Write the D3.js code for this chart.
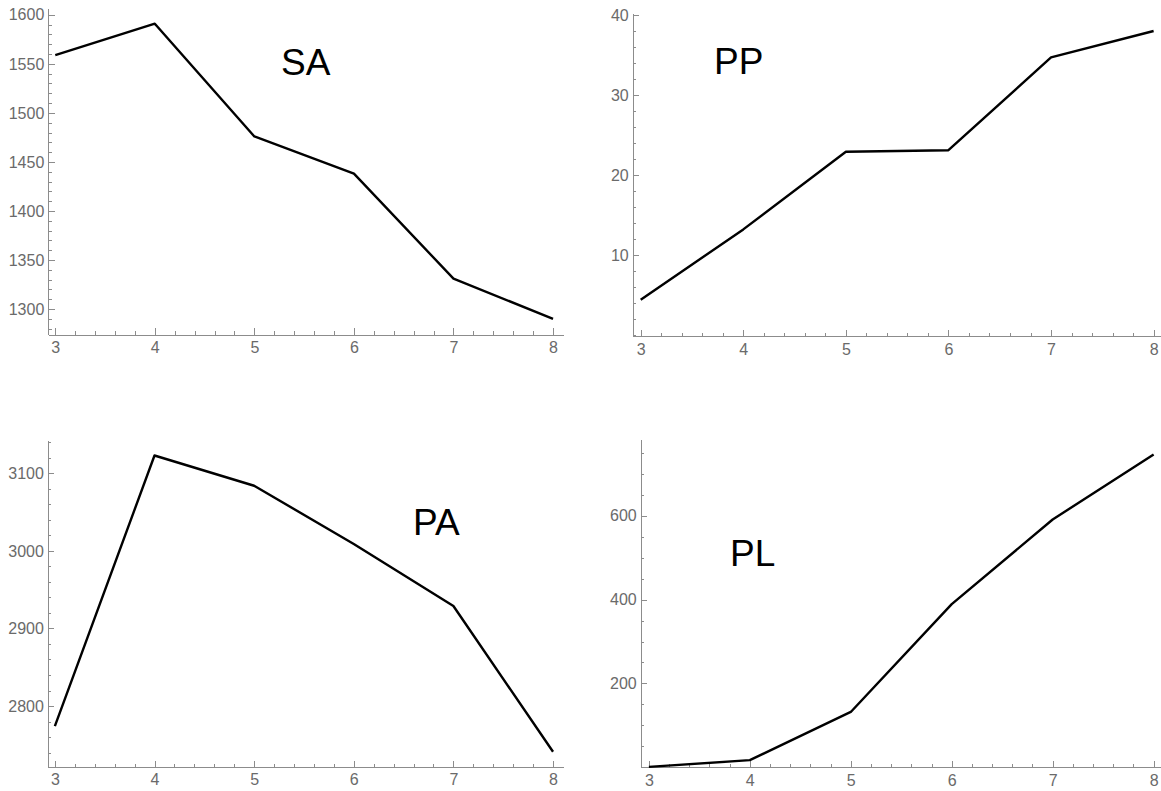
<!DOCTYPE html>
<html>
<head>
<meta charset="utf-8">
<script src="https://cdn.jsdelivr.net/npm/d3@7"></script>
<style>
  body { margin: 0; background: #fff; }
  svg { display: block; font-family: "Liberation Sans", Arial, sans-serif; }
  .axis path, .axis line { stroke: #8c8c8c; shape-rendering: crispEdges; }
  .line { fill: none; stroke: #000; stroke-width: 2.4; stroke-linejoin: round; }
  .title { font-size: 37px; fill: #000; }
</style>
</head>
<body>
<script>
// data
const xValues = [3, 4, 5, 6, 7, 8]
const saValues = [1559, 1591, 1476, 1438, 1331, 1290]
const ppValues = [4.4, 13.2, 22.9, 23.1, 34.7, 38.0]
const paValues = [2774, 3123, 3084, 3009, 2929, 2741]
const plValues = [1, 17, 132, 389, 591, 746]

// tick labels
const xTicks = [3, 4, 5, 6, 7, 8]
const saTicks = [1300, 1350, 1400, 1450, 1500, 1550, 1600]
const ppTicks = [10, 20, 30, 40]
const paTicks = [2800, 2900, 3000, 3100]
const plTicks = [200, 400, 600]

const width = 1161
const height = 791

// frame of each panel: axis extents in data units and where they sit on the page
const panels = [
  {name: 'SA', values: saValues, ticks: saTicks, minorStep: 10,
   xDom: [2.93, 8.1], xPx: [48.3, 563], yDom: [1274, 1607], yPx: [334.5, 8],
   title: [281, 75]},
  {name: 'PP', values: ppValues, ticks: ppTicks, minorStep: 2,
   xDom: [2.922, 8.072], xPx: [632.7, 1161], yDom: [-0.15, 40.25], yPx: [336.2, 13],
   title: [714, 74]},
  {name: 'PA', values: paValues, ticks: paTicks, minorStep: 20,
   xDom: [2.93, 8.1], xPx: [47.9, 563], yDom: [2721.4, 3143], yPx: [767, 440],
   title: [413, 535]},
  {name: 'PL', values: plValues, ticks: plTicks, minorStep: 50,
   xDom: [2.919, 8.073], xPx: [640.7, 1161], yDom: [0, 782], yPx: [767.3, 439.4],
   title: [730, 566]},
]

const svg = d3.select('body').append('svg')
  .attr('width', width)
  .attr('height', height)

// mathematica-ish tick label look
const styleLabels = a => a.selectAll('text')
  .style('font-size', '16px')
  .style('font-family', '"Liberation Sans", Arial, sans-serif')
  .style('fill', '#6a6a6a')

panels.forEach(p => {
  const x = d3.scaleLinear().domain(p.xDom).range(p.xPx)
  const y = d3.scaleLinear().domain(p.yDom).range(p.yPx)
  const g = svg.append('g')

  // minor ticks, x every 0.2
  const xMinor = d3.range(Math.ceil(p.xDom[0] * 5), Math.floor(p.xDom[1] * 5) + 1)
    .map(i => i / 5).filter(v => Math.abs(v - Math.round(v)) > 1e-6)
  const yMinor = d3.range(Math.ceil(p.yDom[0] / p.minorStep), Math.floor(p.yDom[1] / p.minorStep) + 1)
    .map(i => i * p.minorStep).filter(v => !p.ticks.includes(v) && v > p.yDom[0])

  // x axis
  const xAxisY = y(p.yDom[0])
  g.append('g')
    .attr('class', 'axis')
    .attr('transform', 'translate(0,' + xAxisY + ')')
    .call(d3.axisBottom(x).tickValues(xMinor).tickSize(-3.5).tickSizeOuter(0).tickFormat(''))
  g.append('g')
    .attr('class', 'axis')
    .attr('transform', 'translate(0,' + xAxisY + ')')
    .call(d3.axisBottom(x).tickValues(xTicks).tickSize(-6.5).tickSizeOuter(0).tickPadding(7).tickFormat(d3.format('d')))
    .call(a => a.select('.domain').remove())
    .call(styleLabels)

  // y axis
  const yAxisX = x(p.xDom[0])
  g.append('g')
    .attr('class', 'axis')
    .attr('transform', 'translate(' + yAxisX + ',0)')
    .call(d3.axisLeft(y).tickValues(yMinor).tickSize(-3.5).tickSizeOuter(0).tickFormat(''))
  g.append('g')
    .attr('class', 'axis')
    .attr('transform', 'translate(' + yAxisX + ',0)')
    .call(d3.axisLeft(y).tickValues(p.ticks).tickSize(-6.5).tickSizeOuter(0).tickPadding(4).tickFormat(d3.format('d')))
    .call(a => a.select('.domain').remove())
    .call(styleLabels)

  // the line
  const data = xValues.map((v, i) => ({x: v, y: p.values[i]}))
  g.append('path')
    .datum(data)
    .attr('class', 'line')
    .attr('d', d3.line().x(d => x(d.x)).y(d => y(d.y)))

  g.append('text')
    .attr('class', 'title')
    .attr('x', p.title[0])
    .attr('y', p.title[1])
    .text(p.name)
})
</script>
</body>
</html>
